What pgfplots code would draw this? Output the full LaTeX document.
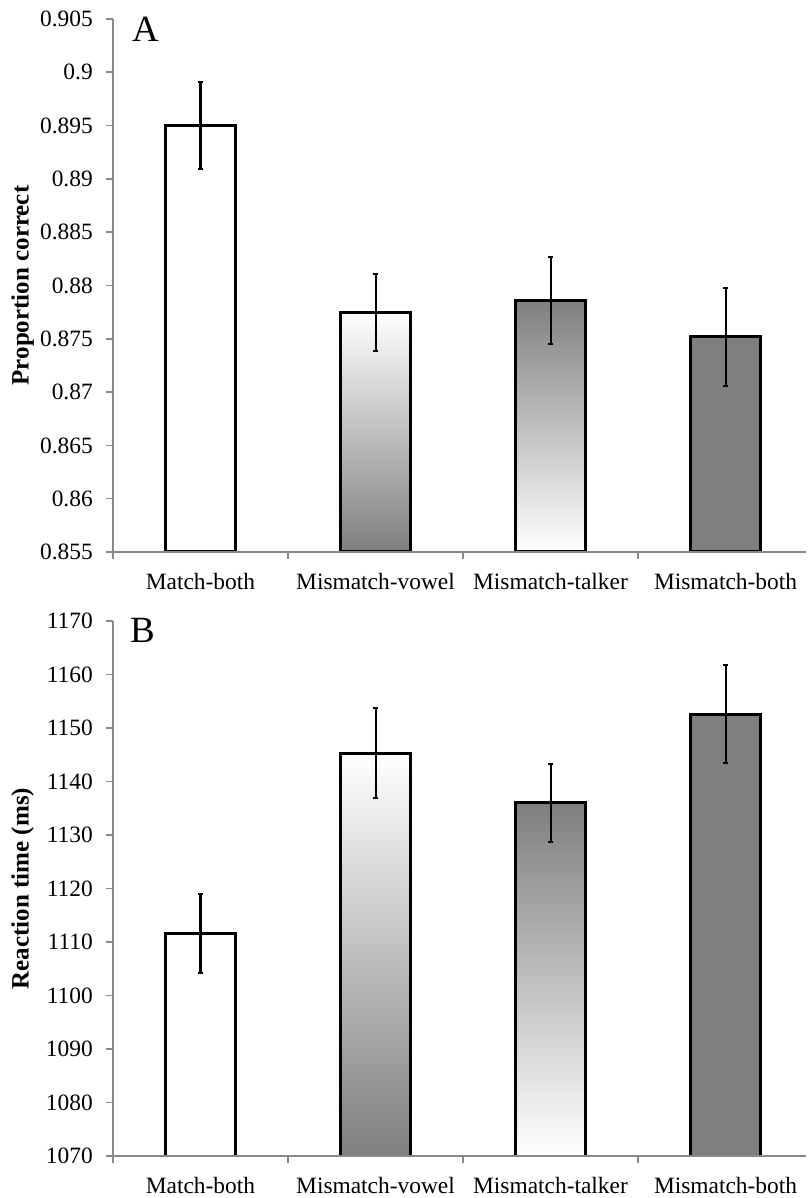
\documentclass[border=0pt]{standalone}
\usepackage{fontspec}
\setmainfont{Liberation Serif}
\usepackage{pgfplots}
\pgfplotsset{compat=1.18}
\definecolor{axgray}{RGB}{137,137,137}
\definecolor{bargray}{RGB}{127,127,127}
\pgfplotsset{
  panel/.style={
    scale only axis,
    width=346.5pt,
    xmin=-0.5, xmax=3.46,
    clip mode=individual,
    axis on top,
    scaled y ticks=false,
    axis x line*=bottom, axis y line*=left,
    axis line style={axgray, line width=1pt},
    xtick={0,1,2,3},
    xticklabels={Match-both,Mismatch-vowel,Mismatch-talker,Mismatch-both},
    major x tick style={draw=none},
    minor xtick={-0.5,0.5,1.5,2.5},
    tick align=outside,
    major tick length=3.3pt, minor tick length=3.3pt,
    tick style={axgray, line width=0.8pt},
    ticklabel style={font=\fontsize{11.7}{14}\selectfont},
    xticklabel style={yshift=-3.8pt},
    yticklabel style={xshift=-3.3pt},
    ylabel style={font=\bfseries\fontsize{12.5}{15}\selectfont,
      at={(axis description cs:-0.1306,0.5)}, anchor=center},
    bar width=0.4,
    error bars/y dir=both, error bars/y explicit,
    error bars/error mark options={rotate=90, mark size=1.4pt, line width=1pt, black},
    error bars/error bar style={line width=1pt, black},
  },
  bars/.style={ybar, bar shift=0pt, draw=black, line width=1.5pt},
}
\begin{document}
\begin{tikzpicture}
\begin{axis}[panel, name=A, at={(0pt,0pt)}, anchor=south west,
  height=266.5pt,
  ymin=0, ymax=0.05,
  y filter/.expression={y-0.855},
  ytick={0,0.005,0.01,0.015,0.02,0.025,0.03,0.035,0.04,0.045,0.05},
  yticklabels={0.855,0.86,0.865,0.87,0.875,0.88,0.885,0.89,0.895,0.9,0.905},
  ylabel={Proportion correct}]
\addplot[bars, fill=white] coordinates {(0,0.8950) +- (0,0.0041)};
\addplot[bars, top color=white, bottom color=bargray] coordinates {(1,0.8775) +- (0,0.0036)};
\addplot[bars, top color=bargray, bottom color=white] coordinates {(2,0.8786) +- (0,0.0041)};
\addplot[bars, fill=bargray] coordinates {(3,0.8752) +- (0,0.0046)};
\node[anchor=base west, font=\fontsize{18.5}{20}\selectfont] at (rel axis cs:0.0173,0.9587) {A};
\end{axis}
\begin{axis}[panel, name=B, at={(0pt,-302pt)}, anchor=south west,
  height=267.5pt,
  ymin=0, ymax=100,
  y filter/.expression={y-1070},
  ytick={0,10,20,30,40,50,60,70,80,90,100},
  yticklabels={1070,1080,1090,1100,1110,1120,1130,1140,1150,1160,1170},
  ylabel={Reaction time (ms)}]
\addplot[bars, fill=white] coordinates {(0,1111.6) +- (0,7.4)};
\addplot[bars, top color=white, bottom color=bargray] coordinates {(1,1145.3) +- (0,8.4)};
\addplot[bars, top color=bargray, bottom color=white] coordinates {(2,1136.0) +- (0,7.3)};
\addplot[bars, fill=bargray] coordinates {(3,1152.6) +- (0,9.2)};
\node[anchor=base west, font=\fontsize{18.5}{20}\selectfont] at (rel axis cs:0.0144,0.9589) {B};
\end{axis}
\pgfresetboundingbox
\path[use as bounding box] (-56.5pt,-323pt) rectangle (347.5pt,276pt);
\end{tikzpicture}
\end{document}
